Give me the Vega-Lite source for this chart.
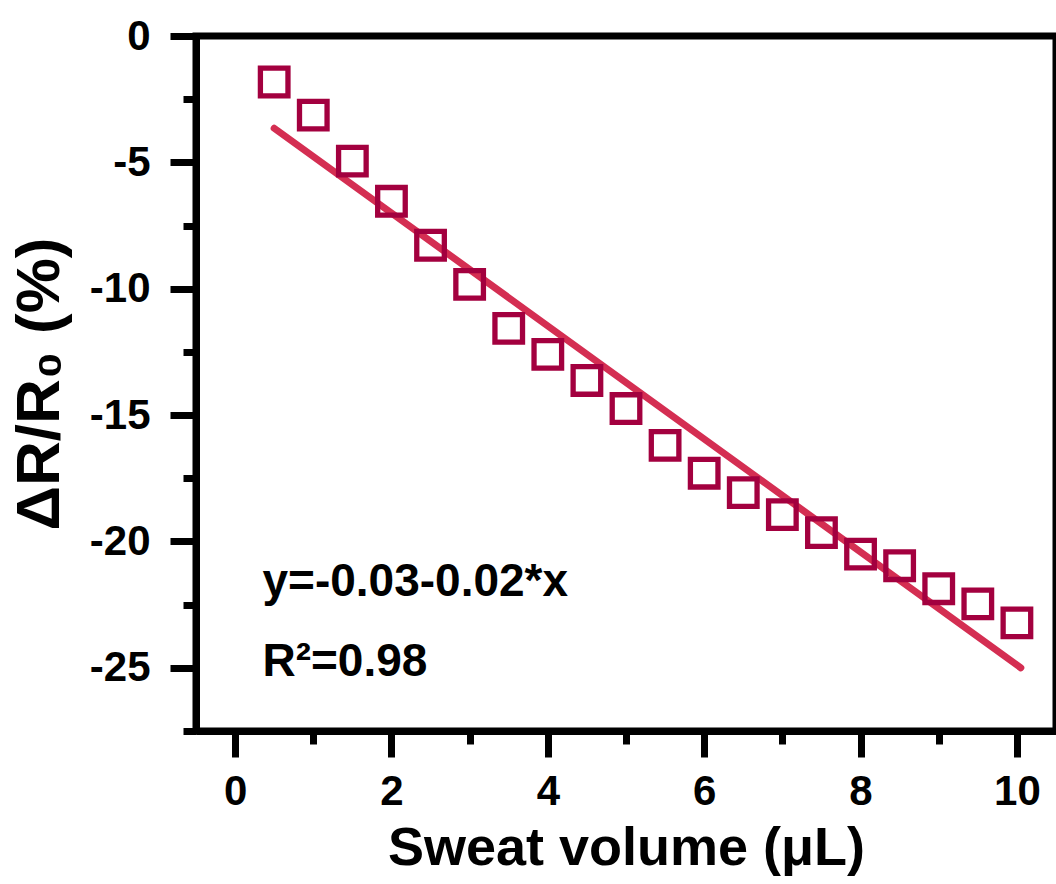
{
  "$schema": "https://vega.github.io/schema/vega-lite/v6.json",
  "autosize": {"type": "none"},
  "padding": {"left": 196, "top": 36, "right": 0, "bottom": 153},
  "width": 860,
  "height": 695,
  "background": "white",
  "config": {
    "view": {"stroke": "black", "strokeWidth": 7},
    "axis": {
      "domainColor": "black",
      "domainWidth": 7,
      "tickColor": "black",
      "tickWidth": 7,
      "grid": false,
      "labelFont": "Liberation Sans",
      "labelFontWeight": "bold",
      "labelFontSize": 42,
      "labelColor": "black",
      "titleFont": "Liberation Sans",
      "titleFontWeight": "bold",
      "titleColor": "black"
    }
  },
  "datasets": {
    "points": [
      {"volume": 0.5, "dr": -1.82},
      {"volume": 1.0, "dr": -3.13},
      {"volume": 1.5, "dr": -4.95},
      {"volume": 2.0, "dr": -6.54},
      {"volume": 2.5, "dr": -8.28},
      {"volume": 3.0, "dr": -9.83},
      {"volume": 3.5, "dr": -11.57},
      {"volume": 4.0, "dr": -12.6},
      {"volume": 4.5, "dr": -13.63},
      {"volume": 5.0, "dr": -14.74},
      {"volume": 5.5, "dr": -16.2},
      {"volume": 6.0, "dr": -17.3},
      {"volume": 6.5, "dr": -18.07},
      {"volume": 7.0, "dr": -18.94},
      {"volume": 7.5, "dr": -19.65},
      {"volume": 8.0, "dr": -20.5},
      {"volume": 8.5, "dr": -20.96},
      {"volume": 9.0, "dr": -21.87},
      {"volume": 9.5, "dr": -22.47},
      {"volume": 10.0, "dr": -23.22}
    ],
    "fit": [
      {"volume": 0.5, "dr": -3.65},
      {"volume": 10.05, "dr": -25.0}
    ],
    "notes": [
      {"label": "y=-0.03-0.02*x", "volume": 0.35, "dr": -22.15},
      {"label": "R²=0.98", "volume": 0.35, "dr": -25.32}
    ]
  },
  "layer": [
    {
      "data": {"name": "fit"},
      "mark": {"type": "line", "color": "#d42e52", "strokeWidth": 7, "strokeCap": "round"},
      "encoding": {
        "x": {
          "field": "volume", "type": "quantitative",
          "scale": {"domain": [-0.5, 10.5], "nice": false, "zero": false},
          "axis": {
            "title": "Sweat volume (μL)",
            "titleFontSize": 54,
            "titlePadding": 9,
            "values": [0, 1, 2, 3, 4, 5, 6, 7, 8, 9, 10],
            "labelExpr": "datum.value % 2 === 0 ? '' + datum.value : ''",
            "tickSize": {"condition": {"test": "datum.value % 2 === 0", "value": 26}, "value": 13},
            "labelPadding": 14
          }
        },
        "y": {
          "field": "dr", "type": "quantitative",
          "scale": {"domain": [-27.5, 0], "nice": false, "zero": false},
          "axis": {
            "title": "ΔR/R₀ (%)",
            "titleFontSize": 62,
            "titlePadding": 18,
            "values": [-27.5, -25, -22.5, -20, -17.5, -15, -12.5, -10, -7.5, -5, -2.5, 0],
            "labelExpr": "datum.value % 5 === 0 ? '' + datum.value : ''",
            "tickSize": {"condition": {"test": "datum.value % 5 === 0", "value": 26}, "value": 13},
            "labelPadding": 20
          }
        }
      }
    },
    {
      "data": {"name": "points"},
      "mark": {"type": "point", "shape": "square", "filled": false, "stroke": "#a3003f", "strokeWidth": 5.3, "size": 760, "opacity": 1},
      "encoding": {
        "x": {"field": "volume", "type": "quantitative"},
        "y": {"field": "dr", "type": "quantitative"}
      }
    },
    {
      "data": {"name": "notes"},
      "mark": {"type": "text", "font": "Liberation Sans", "fontWeight": "bold", "fontSize": 46, "align": "left", "baseline": "alphabetic", "color": "black"},
      "encoding": {
        "x": {"field": "volume", "type": "quantitative"},
        "y": {"field": "dr", "type": "quantitative"},
        "text": {"field": "label"}
      }
    }
  ]
}
